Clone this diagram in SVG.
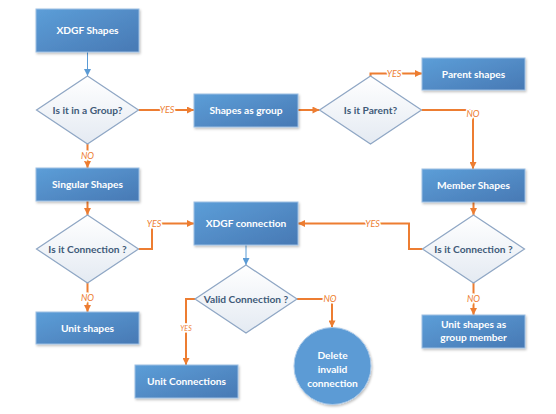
<svg xmlns="http://www.w3.org/2000/svg" width="556" height="414" viewBox="0 0 556 414">
<defs>
<linearGradient id="boxg" x1="0" y1="0" x2="1" y2="1">
<stop offset="0" stop-color="#5c9ed8"/>
<stop offset="1" stop-color="#4879b4"/>
</linearGradient>
<linearGradient id="diag" x1="0" y1="0" x2="0" y2="1">
<stop offset="0" stop-color="#ffffff"/>
<stop offset="1" stop-color="#e4eaf2"/>
</linearGradient>
<filter id="sh" x="-10%" y="-10%" width="130%" height="140%">
<feDropShadow dx="1" dy="1.5" stdDeviation="1.2" flood-color="#000" flood-opacity="0.25"/>
</filter>
<marker id="ao" viewBox="0 0 10 10" refX="10" refY="5" markerWidth="8" markerHeight="7" markerUnits="userSpaceOnUse" orient="auto">
<path d="M0,0 L10,5 L0,10 z" fill="#ed7d31"/>
</marker>
<marker id="ab" viewBox="0 0 10 10" refX="10" refY="5" markerWidth="7" markerHeight="7" markerUnits="userSpaceOnUse" orient="auto">
<path d="M0,0 L10,5 L0,10 z" fill="#5b9bd5"/>
</marker>
</defs>
<style>
.box{fill:url(#boxg);stroke:#9dbfe3;stroke-width:1;filter:url(#sh)}
.dia{fill:url(#diag);stroke:#8ea6c4;stroke-width:1.2}
.bt{font-family:Lato,"Open Sans",sans-serif;font-weight:bold;font-size:10.2px;fill:#ffffff;text-anchor:middle}
.dt{font-family:Lato,"Open Sans",sans-serif;font-weight:bold;font-size:10.2px;fill:#3f5a78;text-anchor:middle}
.co{fill:none;stroke:#ed7d31;stroke-width:2}
.cb{fill:none;stroke:#5b9bd5;stroke-width:1}
.lb{font-family:Lato,"Open Sans",sans-serif;font-style:italic;font-size:9px;fill:#ed7d31;text-anchor:middle;stroke:#ffffff;stroke-width:3;paint-order:stroke}
.ls{font-size:7px}
</style>
<rect width="556" height="414" fill="#ffffff"/>

<g id="connectors">
<path class="cb" d="M87.5,52 V76" marker-end="url(#ab)"/>
<path class="co" d="M138.5,110 H194" marker-end="url(#ao)"/>
<path class="co" d="M87.5,144 V168" marker-end="url(#ao)"/>
<path class="co" d="M298,110 H319.5" marker-end="url(#ao)"/>
<path class="co" d="M370.5,76 V73.5 H422" marker-end="url(#ao)"/>
<path class="co" d="M421.5,110 H473 V169" marker-end="url(#ao)"/>
<path class="co" d="M87.5,201 V215" marker-end="url(#ao)"/>
<path class="co" d="M138.5,249 H152 V223.5 H194" marker-end="url(#ao)"/>
<path class="co" d="M87.5,283 V312" marker-end="url(#ao)"/>
<path class="co" d="M473.5,202 V215" marker-end="url(#ao)"/>
<path class="co" d="M422.5,249 H409 V223.5 H298" marker-end="url(#ao)"/>
<path class="co" d="M473.5,283 V315" marker-end="url(#ao)"/>
<path class="cb" d="M246,245 V265" marker-end="url(#ab)"/>
<path class="co" d="M195,299 H186 V365" marker-end="url(#ao)"/>
<path class="co" d="M297,299 H332 V327.5" marker-end="url(#ao)"/>
<text class="lb" x="167" y="113.2">YES</text>
<text class="lb" x="87.5" y="159">NO</text>
<text class="lb" x="394" y="76.7">YES</text>
<text class="lb" x="473" y="117">NO</text>
<text class="lb" x="154" y="226.7">YES</text>
<text class="lb" x="87.5" y="301">NO</text>
<text class="lb" x="372.5" y="226.7">YES</text>
<text class="lb" x="473.5" y="302">NO</text>
<text class="lb ls" x="186" y="330.5">YES</text>
<text class="lb" x="330" y="302.2">NO</text>
</g>

<g id="xdgf-shapes"><rect class="box" x="36" y="9" width="103" height="43"/><text class="bt" x="87.5" y="34.2">XDGF Shapes</text></g>
<g id="is-in-group"><polygon class="dia" points="87.5,76 138.5,110 87.5,144 36.5,110"/><text class="dt" x="87.5" y="113.7">Is it in a Group?</text></g>
<g id="shapes-as-group"><rect class="box" x="194" y="94" width="104" height="33"/><text class="bt" x="246" y="114.2">Shapes as group</text></g>
<g id="is-parent"><polygon class="dia" points="370.5,76 421.5,110 370.5,144 319.5,110"/><text class="dt" x="370.5" y="113.7">Is it Parent?</text></g>
<g id="parent-shapes"><rect class="box" x="422" y="58" width="103" height="32"/><text class="bt" x="473.5" y="77.7">Parent shapes</text></g>
<g id="singular-shapes"><rect class="box" x="36" y="168" width="103" height="33"/><text class="bt" x="87.5" y="188.2">Singular Shapes</text></g>
<g id="member-shapes"><rect class="box" x="422" y="169" width="103" height="33"/><text class="bt" x="473.5" y="189.2">Member Shapes</text></g>
<g id="is-connection-left"><polygon class="dia" points="87.5,215 138.5,249 87.5,283 36.5,249"/><text class="dt" x="87.5" y="252.7">Is it Connection ?</text></g>
<g id="xdgf-connection"><rect class="box" x="194" y="202" width="104" height="43"/><text class="bt" x="246" y="227.2">XDGF connection</text></g>
<g id="is-connection-right"><polygon class="dia" points="473.5,215 524.5,249 473.5,283 422.5,249"/><text class="dt" x="473.5" y="252.7">Is it Connection ?</text></g>
<g id="valid-connection"><polygon class="dia" points="246,265 297,299 246,333 195,299"/><text class="dt" x="246" y="302.7">Valid Connection ?</text></g>
<g id="unit-shapes"><rect class="box" x="36" y="312" width="103" height="32"/><text class="bt" x="87.5" y="331.7">Unit shapes</text></g>
<g id="unit-shapes-group-member"><rect class="box" x="422" y="315" width="103" height="33"/><text class="bt" x="473.5" y="327.7">Unit shapes as</text><text class="bt" x="473.5" y="341.2">group member</text></g>
<g id="unit-connections"><rect class="box" x="135" y="365" width="103" height="33"/><text class="bt" x="186.5" y="385.2">Unit Connections</text></g>
<g id="delete-invalid"><circle cx="332.5" cy="366" r="38.5" fill="#5b9bd5" stroke="#a9c8e8" stroke-width="1" filter="url(#sh)"/><text class="bt" x="332.5" y="358.7">Delete</text><text class="bt" x="332.5" y="372.7">invalid</text><text class="bt" x="332.5" y="386.7">connection</text></g>
</svg>
